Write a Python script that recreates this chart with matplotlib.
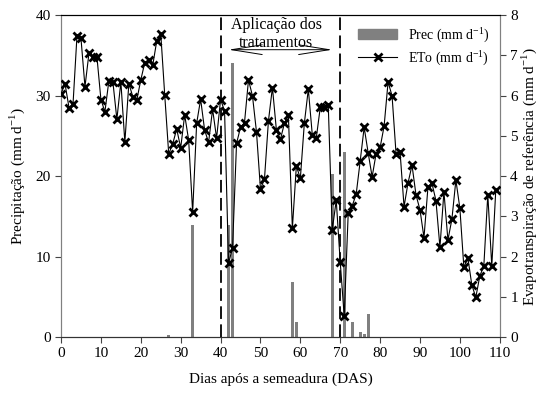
import numpy as np
import matplotlib
matplotlib.use("Agg")
import matplotlib.pyplot as plt
from matplotlib.patches import Patch
from matplotlib.lines import Line2D

plt.rcParams['font.family'] = ['Liberation Serif', 'DejaVu Serif']

# days after sowing
das = list(range(110))

# reference evapotranspiration (mm/d)
eto = [6.05, 6.29, 5.70, 5.78, 7.49, 7.42, 6.22, 7.05, 6.96, 6.96,
       5.90, 5.60, 6.37, 6.34, 5.41, 6.34, 4.84, 6.30, 5.97, 5.89,
       6.39, 6.82, 6.88, 6.76, 7.36, 7.54, 6.01, 4.55, 4.80, 5.17,
       4.70, 5.52, 4.89, 3.10, 5.31, 5.91, 5.14, 4.84, 5.66, 4.94,
       5.90, 5.62, 1.83, 2.22, 4.81, 5.21, 5.33, 6.39, 5.99, 5.10,
       3.68, 3.92, 5.37, 6.20, 5.14, 4.91, 5.31, 5.52, 2.70, 4.25,
       3.94, 5.31, 6.16, 5.02, 4.95, 5.71, 5.72, 5.76, 2.66, 3.40,
       1.86, 0.52, 3.07, 3.26, 3.55, 4.37, 5.21, 4.58, 3.98, 4.56,
       4.71, 5.24, 6.34, 5.99, 4.55, 4.60, 3.24, 3.83, 4.27, 3.53,
       3.16, 2.47, 3.73, 3.82, 3.39, 2.23, 3.61, 2.41, 2.93, 3.90,
       3.20, 1.73, 1.97, 1.29, 0.99, 1.52, 1.76, 3.54, 1.76, 3.65]

# precipitation (mm/d), only rainy days
rain_days = [27, 33, 42, 43, 58, 59, 68, 71, 73, 75, 76, 77]
rain_mm = [0.3, 13.9, 13.9, 34.1, 6.8, 1.9, 20.2, 23.0, 1.9, 0.66, 0.4, 2.9]
prec = np.zeros(len(das))
prec[rain_days] = rain_mm

grey = "#808080"

fig = plt.figure(figsize=(5.45, 3.97), dpi=100)
ax = fig.add_axes([0.112, 0.151, 0.805, 0.811])
ax.bar(das, prec, width=0.7, color=grey, zorder=2)
ax.set_xlim(0, 110)
ax.set_ylim(0, 40)
ax.set_xticks(range(0, 111, 10))
ax.set_yticks(range(0, 41, 10))
ax.set_xlabel("Dias após a semeadura (DAS)", fontsize=11, labelpad=9)
ax.set_ylabel("Precipitação (mm d$^{\\mathregular{-1}}$)", fontsize=11, labelpad=6)
ax.tick_params(labelsize=11, length=4, width=0.8, color="#444444")

ax2 = ax.twinx()
ax2.plot(das, eto, color="black", lw=0.8, marker="x", ms=5.5, mew=2, zorder=3)
ax2.set_ylim(0, 8)
ax2.set_yticks(range(0, 9))
ax2.set_ylabel("Evapotranspiração de referência (mm d$^{\\mathregular{-1}}$)", fontsize=11, labelpad=1)
ax2.tick_params(labelsize=11, length=4, width=0.8, color="#444444")

for a in (ax, ax2):
    a.spines['left'].set_color(grey)
    a.spines['right'].set_color(grey)
    a.spines['top'].set_color("black")
    a.spines['bottom'].set_color("#333333")

# treatment period
for xv in (40, 70):
    ax.axvline(xv, color="black", lw=1.3, ls=(0, (7, 3)), zorder=4)
ax.annotate("", xy=(41.3, 35.7), xytext=(68.7, 35.7),
            arrowprops=dict(arrowstyle="<->,head_length=2.2,head_width=0.35",
                            color="black", lw=0.7))
ax.text(54, 38.8, "Aplicação dos", ha="center", va="center", fontsize=11.5)
ax.text(54, 36.5, "tratamentos", ha="center", va="center", fontsize=11.5)

handles = [Patch(color=grey),
           Line2D([], [], color="black", lw=0.8, marker="x", ms=5.5, mew=2)]
labels = ["Prec (mm d$^{\\mathregular{-1}}$)", "ETo (mm d$^{\\mathregular{-1}}$)"]
ax2.legend(handles, labels, loc="upper right", frameon=False, fontsize=10,
           handlelength=2.8, borderaxespad=0.3, labelspacing=0.3)

fig.savefig("out.png", dpi=100)
